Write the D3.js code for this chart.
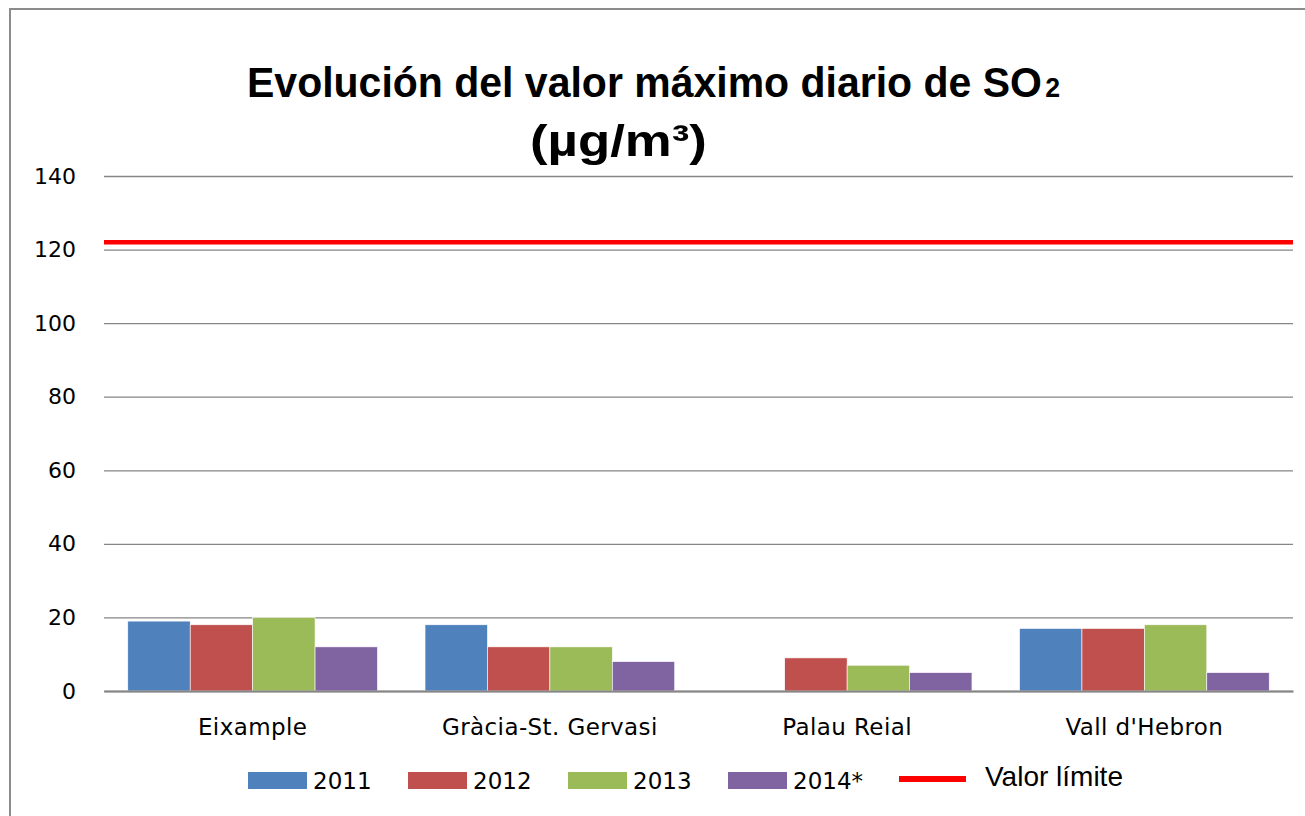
<!DOCTYPE html>
<html>
<head>
<meta charset="utf-8">
<script src="https://cdn.jsdelivr.net/npm/d3@7"></script>
<style>
  body { margin: 0; background: #fff; }
  svg { display: block; }
</style>
</head>
<body>
<div id="chart"></div>
<script>
// chart data
const stations = ["Eixample", "Gràcia-St. Gervasi", "Palau Reial", "Vall d'Hebron"];
const years = ["2011", "2012", "2013", "2014*"];
const values2011 = [19, 18, null, 17];
const values2012 = [18, 12, 9, 17];
const values2013 = [20, 12, 7, 18];
const values2014 = [12, 8, 5, 5];
const limitValue = 122;
const limitLabel = "Valor límite";
const yTicks = [0, 20, 40, 60, 80, 100, 120, 140];

const colors = ["#4F81BD", "#C0504D", "#9BBB59", "#8064A2"];
const series = [values2011, values2012, values2013, values2014];

const width = 1305, height = 816;
const margin = {top: 176, right: 12, bottom: 125, left: 104};
const plotW = width - margin.left - margin.right;
const plotH = height - margin.top - margin.bottom;

let svg = d3.select("#chart")
    .append("svg")
    .attr("width", width)
    .attr("height", height);

// outer border (chart frame runs off the right and bottom edges)
svg.append("rect")
    .attr("x", 10).attr("y", 9)
    .attr("width", 1400).attr("height", 900)
    .attr("fill", "none")
    .attr("stroke", "#8c8c8c")
    .attr("stroke-width", 2);

let g = svg.append("g")
    .attr("transform", `translate(${margin.left}, ${margin.top})`);

let y = d3.scaleLinear().domain([0, 140]).range([plotH, 0]);

let x0 = d3.scaleBand()
    .domain(stations)
    .range([0, plotW])
    .paddingInner(0.16)
    .paddingOuter(0.08);

let x1 = d3.scaleBand()
    .domain(years)
    .range([0, x0.bandwidth()]);

// gridlines + y labels
let yAxis = g.append("g")
    .call(d3.axisLeft(y).tickValues(yTicks).tickSize(-plotW).tickPadding(28));
yAxis.select(".domain").remove();
yAxis.selectAll(".tick line")
    .attr("stroke", "#868686")
    .attr("stroke-width", 1.3);
yAxis.selectAll(".tick text")
    .style("font-family", "DejaVu Sans, Verdana, sans-serif")
    .style("font-size", "22px")
    .attr("fill", "#000");

// bars
let rows = [];
stations.forEach(function(s, i) {
    years.forEach(function(yr, j) {
        if (series[j][i] != null) rows.push({station: s, year: yr, value: series[j][i], color: colors[j]});
    });
});

g.append("g").selectAll("rect")
    .data(rows)
    .enter()
    .append("rect")
    .attr("x", d => x0(d.station) + x1(d.year))
    .attr("y", d => y(d.value))
    .attr("width", x1.bandwidth())
    .attr("height", d => y(0) - y(d.value))
    .attr("fill", d => d.color)
    .attr("stroke", "#fff")
    .attr("stroke-width", 0.6);

// x axis
let xAxis = g.append("g")
    .attr("transform", `translate(0, ${plotH})`)
    .call(d3.axisBottom(x0).tickSize(0).tickPadding(28));
xAxis.select(".domain")
    .attr("stroke", "#868686")
    .attr("stroke-width", 2.2);
xAxis.selectAll(".tick text")
    .style("font-family", "DejaVu Sans, Verdana, sans-serif")
    .style("font-size", "23px")
    .style("letter-spacing", "0.4px")
    .attr("fill", "#000");

// limit line
g.append("line")
    .attr("x1", 0).attr("x2", plotW)
    .attr("y1", y(limitValue)).attr("y2", y(limitValue))
    .attr("stroke", "#FF0000")
    .attr("stroke-width", 4.5);

// title: drawn at natural width, then squeezed horizontally to fit the reference
let titleG = svg.append("g");
let t1 = titleG.append("text")
    .attr("x", 0).attr("y", 0)
    .style("font-family", "Liberation Sans, Arial, sans-serif")
    .style("font-weight", "bold")
    .style("font-size", "43px")
    .text("Evolución del valor máximo diario de SO");
let w1 = t1.node().getComputedTextLength();
let t2 = titleG.append("text")
    .attr("x", w1 + 3).attr("y", 0)
    .style("font-family", "Liberation Sans, Arial, sans-serif")
    .style("font-weight", "bold")
    .style("font-size", "28px")
    .text("2");
let wAll = w1 + 3 + t2.node().getComputedTextLength();
titleG.attr("transform", `translate(247, 97) scale(${813 / wAll}, 1)`);

let sub = svg.append("g");
let t3 = sub.append("text")
    .attr("x", 0).attr("y", 0)
    .style("font-family", "Liberation Sans, Arial, sans-serif")
    .style("font-weight", "bold")
    .style("font-size", "44px")
    .text("(µg/m³)");
sub.attr("transform", `translate(530, 156) scale(${177 / t3.node().getComputedTextLength()}, 1)`);

// legend
let legend = svg.append("g");
years.forEach(function(yr, j) {
    let lx = 248 + j * 160;
    legend.append("rect")
        .attr("x", lx).attr("y", 772)
        .attr("width", 59).attr("height", 17)
        .attr("fill", colors[j]);
    legend.append("text")
        .attr("x", lx + 65).attr("y", 789)
        .style("font-family", "DejaVu Sans, Verdana, sans-serif")
        .style("font-size", "23px")
        .text(yr);
});
legend.append("line")
    .attr("x1", 899).attr("x2", 966)
    .attr("y1", 779).attr("y2", 779)
    .attr("stroke", "#FF0000")
    .attr("stroke-width", 6);
legend.append("text")
    .attr("x", 985).attr("y", 786)
    .style("font-family", "Liberation Sans, Arial, sans-serif")
    .style("font-size", "28px")
    .text(limitLabel);
</script>
</body>
</html>
